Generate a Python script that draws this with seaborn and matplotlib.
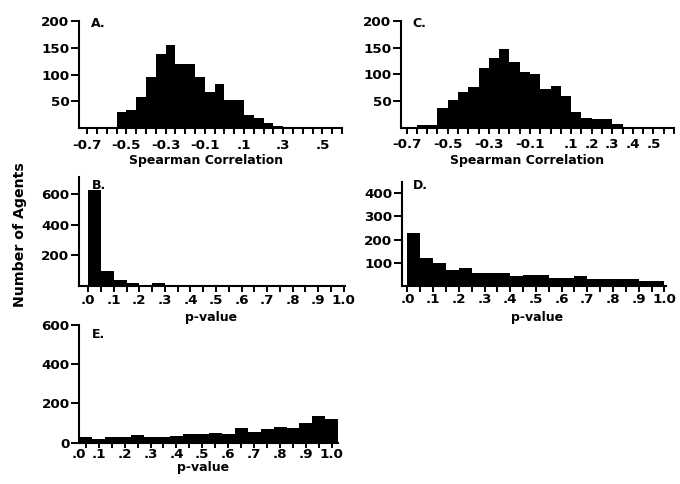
import numpy as np
import pandas as pd
import matplotlib
matplotlib.use("Agg")
import matplotlib.pyplot as plt
import seaborn as sns

# ---------------- data ----------------
bin_width = 0.05

a_start = -0.55
a_counts = [31, 34, 58, 96, 138, 155, 119, 119, 96, 68, 83, 52, 52, 25, 20, 9, 5, 2]

c_start = -0.65
c_counts = [5, 5, 36, 52, 66, 76, 111, 130, 148, 124, 104, 101, 72, 79, 59, 30,
            19, 16, 16, 6, 2, 2, 2, 2]

b_start = 0.0
b_counts = [626, 95, 38, 15, 0, 15, 0, 0, 0, 0, 0, 0, 0, 0, 0, 0, 0, 0, 0, 0]

d_start = 0.0
d_counts = [228, 119, 100, 71, 76, 57, 57, 57, 43, 46, 46, 33, 33, 43, 29, 29,
            29, 29, 23, 23]

e_start = 0.025
e_counts = [27, 21, 31, 31, 38, 31, 31, 34, 43, 46, 51, 43, 74, 57, 69, 79, 75,
            99, 134, 122]

corr_ticks_a = [-0.7, -0.5, -0.3, -0.1, 0.1, 0.3, 0.5]
corr_ticklabels = ["-0.7", "-0.5", "-0.3", "-0.1", ".1", ".3", ".5"]
corr_ticks_c = [-0.7, -0.5, -0.3, -0.1, 0.1, 0.2, 0.3, 0.4, 0.5]
corr_ticklabels_c = ["-0.7", "-0.5", "-0.3", "-0.1", ".1", ".2", ".3", ".4", ".5"]
p_ticklabels = [".0", ".1", ".2", ".3", ".4", ".5", ".6", ".7", ".8", ".9", "1.0"]

# ---------------- style ----------------
sns.set_theme(style="ticks")
plt.rcParams["font.family"] = ["DejaVu Sans"]
plt.rcParams["font.weight"] = "bold"
plt.rcParams["axes.labelweight"] = "bold"
plt.rcParams["text.color"] = "black"
plt.rcParams["axes.labelcolor"] = "black"
plt.rcParams["xtick.color"] = "black"
plt.rcParams["ytick.color"] = "black"
plt.rcParams["xtick.labelcolor"] = "black"
plt.rcParams["ytick.labelcolor"] = "black"

W, H = 680, 484
fig = plt.figure(figsize=(W / 100, H / 100), dpi=100)
fig.patch.set_facecolor("white")

FS = 9.7      # tick labels
LFS = 9.0     # axis labels
PFS = 9.0     # panel letters


def rect(x0, x1, y0, y1):
    return [x0 / W, 1 - y1 / H, (x1 - x0) / W, (y1 - y0) / H]


def hist(ax, start, counts):
    n = len(counts)
    edges = [start + bin_width * i for i in range(n + 1)]
    centers = [(edges[i] + edges[i + 1]) / 2 for i in range(n)]
    df = pd.DataFrame({"x": centers, "w": counts})
    sns.histplot(data=df, x="x", weights="w", bins=edges, ax=ax, color="black",
                 alpha=1.0, linewidth=0, edgecolor="black")


def style(ax, panel, px, py, xpad, xlen=4.3):
    sns.despine(ax=ax)
    for s in ["left", "bottom"]:
        ax.spines[s].set_linewidth(1.5)
        ax.spines[s].set_color("black")
    ax.tick_params(axis="x", which="both", direction="out", length=xlen,
                   width=1.4, color="black", labelcolor="black",
                   labelsize=FS, pad=xpad)
    ax.tick_params(axis="y", which="both", direction="out", length=6,
                   width=1.4, color="black", labelcolor="black",
                   labelsize=FS, pad=1)
    ax.set_ylabel("")
    ax.set_facecolor("white")
    ax.text(px, py, panel, transform=ax.transAxes, fontsize=PFS, color="black",
            fontweight="bold", ha="left", va="baseline")


def ticks(ax, minor, major, labels, yt, xlabel, lx, ly):
    ax.set_xticks(minor, minor=True)
    ax.set_xticks(major)
    ax.set_xticklabels(labels)
    ax.set_yticks(yt)
    ax.set_xlabel(xlabel, fontsize=LFS, fontweight="bold", color="black")
    ax.xaxis.set_label_coords(lx, ly)


corr_minor = list(np.round(np.arange(-0.7, 0.601, 0.05), 2))
p_minor = list(np.round(np.arange(0, 1.001, 0.05), 2))
p_major = list(np.round(np.arange(0, 1.001, 0.1), 1))

# ---- A ----
axA = fig.add_axes(rect(79, 342, 21, 128.3))
hist(axA, a_start, a_counts)
axA.set_xlim(-0.742, 0.6)
axA.set_ylim(0, 200)
ticks(axA, corr_minor, corr_ticks_a, corr_ticklabels,
      [50, 100, 150, 200], "Spearman Correlation", 0.483, -0.244)
style(axA, "A.", 0.046, 0.944, 3.4)

# ---- C ----
axC = fig.add_axes(rect(401, 674, 21, 127.7))
hist(axC, c_start, c_counts)
axC.set_xlim(-0.727, 0.6)
axC.set_ylim(0, 200)
ticks(axC, corr_minor, corr_ticks_c, corr_ticklabels_c,
      [50, 100, 150, 200], "Spearman Correlation", 0.46, -0.251)
style(axC, "C.", 0.040, 0.944, 3.1)

# ---- B ----
axB = fig.add_axes(rect(79, 345, 177.3, 285.5))
hist(axB, b_start, b_counts)
axB.set_xlim(-0.036, 1.005)
axB.set_ylim(0, 710)
ticks(axB, p_minor, p_major, p_ticklabels, [200, 400, 600], "p-value", 0.496, -0.236)
style(axB, "B.", 0.049, 0.892, 1.9)

# ---- D ----
axD = fig.add_axes(rect(402, 666, 181.7, 286))
hist(axD, d_start, d_counts)
axD.set_xlim(-0.021, 1.006)
axD.set_ylim(0, 450)
ticks(axD, p_minor, p_major, p_ticklabels, [100, 200, 300, 400], "p-value", 0.511, -0.24)
style(axD, "D.", 0.042, 0.93, 0.8)

# ---- E ----
axE = fig.add_axes(rect(79.3, 338.3, 325, 442.7))
hist(axE, e_start, e_counts)
axE.set_xlim(0.025, 1.025)
axE.set_ylim(0, 600)
ticks(axE, p_minor[1:], p_major[1:], p_ticklabels[1:], [0, 200, 400, 600],
      "p-value", 0.478, -0.155)
style(axE, "E.", 0.049, 0.89, 0.3, xlen=3.6)
axE.text(0.024, -0.0435, p_ticklabels[0], transform=axE.get_xaxis_transform(),
         fontsize=FS, fontweight="bold", color="black", ha="center", va="top")

fig.text(20 / W, 1 - 235 / H, "Number of Agents", rotation=90, fontsize=10.2,
         fontweight="bold", color="black", ha="center", va="center")

fig.savefig("out.png", dpi=100, facecolor="white")
